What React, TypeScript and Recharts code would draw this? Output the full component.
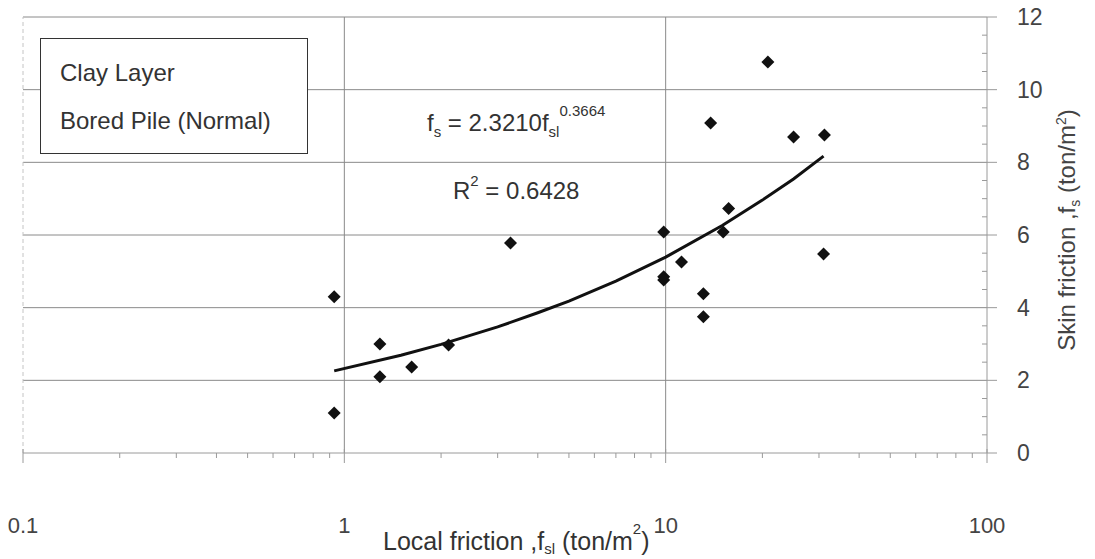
import React from 'react';
import { ScatterChart, Scatter, XAxis, YAxis, CartesianGrid, ReferenceLine } from 'recharts';

document.body.style.margin = '0';

// measured points: local friction f_sl (ton/m2) vs skin friction f_s (ton/m2)
const localFriction = [0.93, 0.93, 1.29, 1.29, 1.62, 2.11, 3.29, 9.86, 9.86, 9.86, 11.2, 13.1, 13.1, 13.8, 15.1, 15.7, 20.8, 25.0, 31.0, 31.2];
const skinFriction = [4.3, 1.1, 3.0, 2.1, 2.37, 2.97, 5.78, 6.08, 4.85, 4.76, 5.26, 4.38, 3.75, 9.08, 6.08, 6.73, 10.76, 8.7, 5.48, 8.75];

// power trend line
const trendX = [0.93, 1.5, 2, 3, 4, 5, 7, 10, 15, 20, 25, 31];
const trendY = [2.26, 2.69, 2.99, 3.47, 3.86, 4.18, 4.73, 5.39, 6.26, 6.96, 7.54, 8.17];

const xMajor = [0.1, 1, 10, 100];
const xTicks = [0.1, 0.2, 0.3, 0.4, 0.5, 0.6, 0.7, 0.8, 0.9, 1, 2, 3, 4, 5, 6, 7, 8, 9, 10, 20, 30, 40, 50, 60, 70, 80, 90, 100];
const yMajor = [0, 2, 4, 6, 8, 10, 12];
const yTicks = [0, 0.5, 1, 1.5, 2, 2.5, 3, 3.5, 4, 4.5, 5, 5.5, 6, 6.5, 7, 7.5, 8, 8.5, 9, 9.5, 10, 10.5, 11, 11.5, 12];

const points = localFriction.map((x, i) => ({ x, y: skinFriction[i] }));
const trend = trendX.map((x, i) => ({ x, y: trendY[i] }));

const FONT = "'Liberation Sans', Arial, sans-serif";
const AXIS = '#9a9a9a';

function Diamond({ cx, cy }: { cx?: number; cy?: number }) {
  if (cx == null || cy == null) return null;
  const r = 6.5;
  return <polygon points={`${cx},${cy - r} ${cx + r},${cy} ${cx},${cy + r} ${cx - r},${cy}`} fill="#111" />;
}

function XTick({ x, y, payload }: { x?: number; y?: number; payload?: { value: number } }) {
  if (x == null || y == null || !payload) return null;
  const major = xMajor.includes(payload.value);
  return (
    <g>
      <line x1={x} x2={x} y1={major ? y - 4 : y} y2={major ? y + 10 : y + 5} stroke={AXIS} />
      {major && (
        <text x={x} y={y + 80} textAnchor="middle" fontSize={22} fill="#444" fontFamily={FONT}>
          {payload.value}
        </text>
      )}
    </g>
  );
}

function YTick({ x, y, payload }: { x?: number; y?: number; payload?: { value: number } }) {
  if (x == null || y == null || !payload) return null;
  const major = yMajor.includes(payload.value);
  return (
    <g>
      <line x1={major ? x : x - 5} x2={major ? x + 10 : x} y1={y} y2={y} stroke={AXIS} />
      {major && (
        <text x={x + 30} y={y + 8} textAnchor="start" fontSize={23} fill="#444" fontFamily={FONT}>
          {payload.value}
        </text>
      )}
    </g>
  );
}

export default function App() {
  return (
    <div style={{ position: 'relative', width: 1095, height: 559, background: '#fff', fontFamily: FONT }}>
      <ScatterChart width={1095} height={559} margin={{ top: 17, right: 0, bottom: 0, left: 23 }}>
        <CartesianGrid
          stroke="#8a8a8a"
          horizontalValues={[2, 4, 6, 8, 10, 12]}
          verticalValues={[1, 10]}
        />
        <ReferenceLine x={0.1} stroke="#c4c4c4" strokeDasharray="4 3" />
        <XAxis
          dataKey="x"
          type="number"
          scale="log"
          domain={[0.1, 100]}
          ticks={xTicks}
          interval={0}
          allowDataOverflow
          height={106}
          tickSize={0}
          tickMargin={0}
          tickLine={false}
          axisLine={{ stroke: AXIS }}
          tick={<XTick />}
        />
        <YAxis
          dataKey="y"
          type="number"
          orientation="right"
          domain={[0, 12]}
          ticks={yTicks}
          interval={0}
          width={108}
          tickSize={0}
          tickMargin={0}
          tickLine={false}
          axisLine={{ stroke: AXIS }}
          tick={<YTick />}
        />
        <Scatter
          data={trend}
          line={{ stroke: '#111', strokeWidth: 3 }}
          lineType="joint"
          shape={() => <g />}
          isAnimationActive={false}
        />
        <Scatter data={points} shape={<Diamond />} isAnimationActive={false} />
      </ScatterChart>

      <div
        style={{
          position: 'absolute',
          left: 40,
          top: 38,
          width: 266,
          height: 114,
          border: '1.5px solid #333',
          background: '#fff',
          color: '#333',
        }}
      >
        <div style={{ position: 'absolute', left: 19, top: 20, fontSize: 24, lineHeight: '28px' }}>Clay Layer</div>
        <div style={{ position: 'absolute', left: 19, top: 68, fontSize: 24, lineHeight: '28px' }}>Bored Pile (Normal)</div>
      </div>

      <div style={{ position: 'absolute', left: 427, top: 103, fontSize: 24, color: '#333', whiteSpace: 'nowrap', lineHeight: '28px' }}>
        f<sub style={{ fontSize: 15 }}>s</sub> = 2.3210f<sub style={{ fontSize: 15 }}>sl</sub>
        <sup style={{ fontSize: 15, position: 'relative', top: -6 }}>0.3664</sup>
      </div>
      <div style={{ position: 'absolute', left: 453, top: 171, fontSize: 24, color: '#333', whiteSpace: 'nowrap', lineHeight: '28px' }}>
        R<sup style={{ fontSize: 15, position: 'relative', top: -4 }}>2</sup> = 0.6428
      </div>

      <div
        style={{
          position: 'absolute',
          left: 383,
          top: 527,
          fontSize: 25,
          color: '#333',
          whiteSpace: 'nowrap',
          lineHeight: '28px',
        }}
      >
        Local friction ,f
        <span style={{ fontSize: 15, position: 'relative', top: 4 }}>sl</span> (ton/m
        <span style={{ fontSize: 15, position: 'relative', top: -16 }}>2</span>)
      </div>

      <div
        style={{
          position: 'absolute',
          left: 1068,
          top: 230,
          fontSize: 24,
          color: '#444',
          whiteSpace: 'nowrap',
          lineHeight: '26px',
          transform: 'translate(-50%, -50%) rotate(-90deg)',
        }}
      >
        Skin friction ,f<sub style={{ fontSize: 14 }}>s</sub> (ton/m<sup style={{ fontSize: 14 }}>2</sup>)
      </div>
    </div>
  );
}
